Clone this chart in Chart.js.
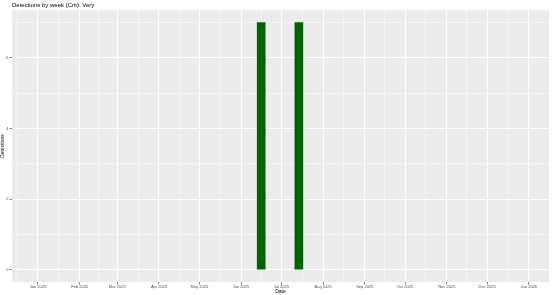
<!DOCTYPE html>
<html>
<head>
<meta charset="utf-8">
<script src="https://cdn.jsdelivr.net/npm/chart.js@4"></script>
<style>
  html, body { margin: 0; padding: 0; background: #fff; }
  #wrap { width: 553px; height: 295px; }
</style>
</head>
<body>
<div id="wrap"><canvas id="chart"></canvas></div>
<script>
// data
const weekStarts = ['2025-06-16', '2025-07-14'];
const detections = [7, 7];
const monthTicks = ['2025-01-01', '2025-02-01', '2025-03-01', '2025-04-01', '2025-05-01', '2025-06-01',
    '2025-07-01', '2025-08-01', '2025-09-01', '2025-10-01', '2025-11-01', '2025-12-01', '2026-01-01'];
const monthLabels = ['Jan 2025', 'Feb 2025', 'Mar 2025', 'Apr 2025', 'May 2025', 'Jun 2025',
    'Jul 2025', 'Aug 2025', 'Sep 2025', 'Oct 2025', 'Nov 2025', 'Dec 2025', 'Jan 2026'];
const yTicks = [0, 2, 4, 6];

const DAY = 86400000;
const origin = Date.UTC(2025, 0, 1);
const toDay = s => (Date.parse(s + 'T00:00:00Z') - origin) / DAY;

const monthPos = monthTicks.map(toDay);
// minor gridlines half way between months
const minorX = [];
for (let i = 0; i < monthPos.length - 1; i++) minorX.push((monthPos[i] + monthPos[i + 1]) / 2);
minorX.unshift(monthPos[0] - 15.5);
minorX.push(monthPos[monthPos.length - 1] + 15.5);

const panelBg = {
    id: 'panelBg',
    beforeDraw(chart) {
        const { ctx, chartArea: a } = chart;
        ctx.save();
        ctx.fillStyle = '#EBEBEB';
        ctx.fillRect(a.left, a.top, a.right - a.left, a.bottom - a.top);
        ctx.restore();
    }
};

const isMajorX = v => monthPos.includes(v);
const isMajorY = v => yTicks.includes(v);

new Chart(document.getElementById('chart'), {
    type: 'bar',
    data: {
        datasets: [{
            data: weekStarts.map((w, i) => ({ x: toDay(w), y: detections[i] })),
            backgroundColor: '#006400',
            borderWidth: 0,
            barThickness: 8
        }]
    },
    plugins: [panelBg],
    options: {
        responsive: true, maintainAspectRatio: false, animation: false,
        layout: { padding: { left: 0, right: 4, top: 0, bottom: 0 } },
        plugins: {
            legend: { display: false },
            tooltip: { enabled: false },
            title: {
                display: true, text: 'Detections by week (Crit): Very', align: 'start',
                fullSize: false,
                color: '#000', font: { family: 'Liberation Sans', size: 6, weight: 'normal' },
                padding: { top: 2, bottom: 1 }
            }
        },
        scales: {
            x: {
                type: 'linear', offset: false,
                min: -19.3, max: 380,
                afterBuildTicks: s => { s.ticks = monthPos.concat(minorX).sort((a, b) => a - b).map(v => ({ value: v })); },
                afterFit: s => { s.height = 13; },
                ticks: {
                    autoSkip: false, maxRotation: 0, padding: 0,
                    color: '#4D4D4D', font: { family: 'Liberation Sans', size: 4 },
                    callback: v => { const i = monthPos.indexOf(v); return i >= 0 ? monthLabels[i] : ''; }
                },
                grid: {
                    offset: false,
                    color: '#FFFFFF',
                    lineWidth: c => (c.tick && isMajorX(c.tick.value)) ? 1 : 0.5,
                    tickLength: 2.5,
                    tickColor: '#333333',
                    tickWidth: c => (c.tick && isMajorX(c.tick.value)) ? 0.6 : 0
                },
                border: { display: false },
                title: { display: true, text: 'Date', color: '#000', font: { family: 'Liberation Sans', size: 5 }, padding: 0 }
            },
            y: {
                min: -0.35, max: 7.35,
                afterBuildTicks: s => { s.ticks = [0, 1, 2, 3, 4, 5, 6, 7].map(v => ({ value: v })); },
                afterFit: s => { s.width = 12; },
                ticks: {
                    autoSkip: false, padding: 1,
                    color: '#4D4D4D', font: { family: 'Liberation Sans', size: 4 },
                    callback: v => isMajorY(v) ? String(v) : ''
                },
                grid: {
                    color: '#FFFFFF',
                    lineWidth: c => (c.tick && isMajorY(c.tick.value)) ? 1 : 0.5,
                    tickLength: 2.5,
                    tickColor: '#333333',
                    tickWidth: c => (c.tick && isMajorY(c.tick.value)) ? 0.6 : 0
                },
                border: { display: false },
                title: { display: true, text: 'Detections', color: '#000', font: { family: 'Liberation Sans', size: 5 }, padding: 0 }
            }
        }
    }
});
</script>
</body>
</html>
